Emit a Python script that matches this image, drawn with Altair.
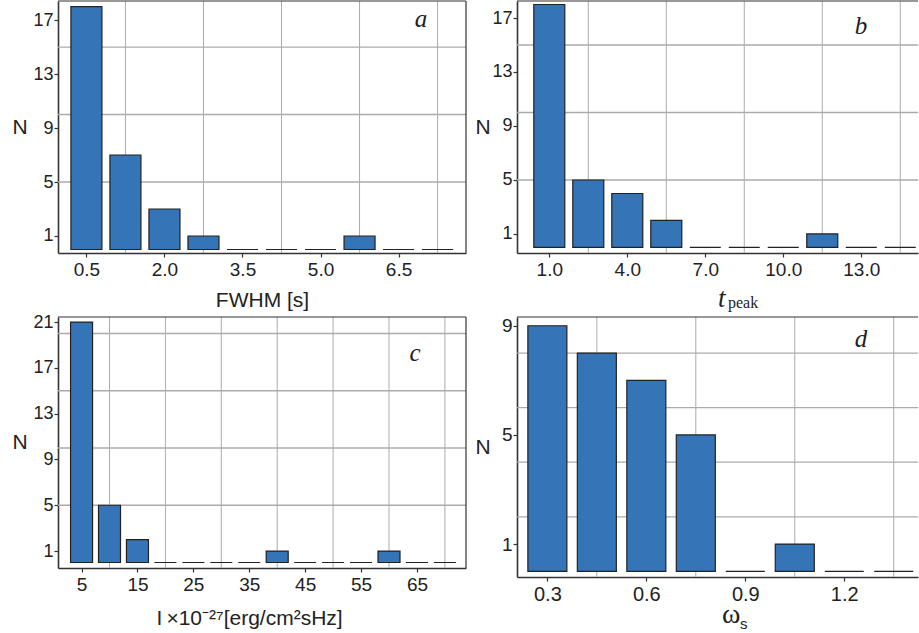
import altair as alt
import pandas as pd

# ---------------- data ----------------
a_bins = [0.5, 1.25, 2.0, 2.75, 3.5, 4.25, 5.0, 5.75, 6.5, 7.25]
a_counts = [18, 7, 3, 1, 0, 0, 0, 1, 0, 0]
a_xticks = [0.5, 2.0, 3.5, 5.0, 6.5]
a_yticks = [1, 5, 9, 13, 17]
a_xgrid = [1.25, 2.75, 4.25, 5.75, 7.25]
a_ygrid = [5, 10, 15]

b_bins = [1.0, 2.5, 4.0, 5.5, 7.0, 8.5, 10.0, 11.5, 13.0, 14.5]
b_counts = [18, 5, 4, 2, 0, 0, 0, 1, 0, 0]
b_xticks = [1.0, 4.0, 7.0, 10.0, 13.0]
b_yticks = [1, 5, 9, 13, 17]
b_xgrid = [2.5, 5.5, 8.5, 11.5, 14.5]
b_ygrid = [5, 10, 15]

c_bins = [5, 10, 15, 20, 25, 30, 35, 40, 45, 50, 55, 60, 65, 70]
c_counts = [21, 5, 2, 0, 0, 0, 0, 1, 0, 0, 0, 1, 0, 0]
c_xticks = [5, 15, 25, 35, 45, 55, 65]
c_yticks = [1, 5, 9, 13, 17, 21]
c_xgrid = [10, 20, 30, 40, 50, 60, 70]
c_ygrid = [5, 10, 15, 20]

d_bins = [0.3, 0.45, 0.6, 0.75, 0.9, 1.05, 1.2, 1.35]
d_counts = [9, 8, 7, 5, 0, 1, 0, 0]
d_xticks = [0.3, 0.6, 0.9, 1.2]
d_yticks = [1, 5, 9]
d_xgrid = [0.45, 0.75, 1.05, 1.35]
d_ygrid = [2, 4, 6, 8]

# ---------------- style ----------------
BAR = "#3574b6"
EDGE = "#222222"
GRID = "#ababab"
AXC = "#333333"
FONT = "Liberation Sans"
SERIF = "Liberation Serif"
one = pd.DataFrame({"k": [0]})


def text_layer(txt, x, y, font, size, style="normal", align="left", baseline="alphabetic"):
    return alt.Chart(one).mark_text(
        text=txt, font=font, fontSize=size, fontStyle=style, align=align,
        baseline=baseline, color="#222222"
    ).encode(x=alt.value(x), y=alt.value(y))


def panel(bins, counts, xticks, yticks, xgrid, ygrid, xdom, ydom, w, h,
          bar_size, xfmt, xlsize, ylsize, letter, lx, ly, xtitle, tx, ty,
          extras=(), right_frame=True, ntitle_x=-46):
    df = pd.DataFrame({"bin": bins, "count": counts})
    xs = alt.Scale(domain=xdom, nice=False, zero=False)
    ys = alt.Scale(domain=ydom, nice=False, zero=False)
    xaxis_kw = dict(values=xticks, format=xfmt, grid=False, labelFontSize=xlsize,
                    labelPadding=3, labelFlush=False)
    if xtitle:
        xaxis_kw.update(title=xtitle, titleX=tx, titleY=ty, titleAlign="center",
                        titleBaseline="alphabetic", titleFontSize=21)
    else:
        xaxis_kw.update(title=None)
    xaxis = alt.Axis(**xaxis_kw)
    yaxis = alt.Axis(
        values=yticks, format="d", grid=False, labelFontSize=ylsize,
        labelPadding=1, labelFlush=False, title="N", titleAngle=0,
        titleX=ntitle_x, titleY=h / 2, titleAlign="left",
        titleBaseline="middle", titleFontSize=21)

    gx = alt.Chart(pd.DataFrame({"bin": xgrid})).mark_rule(
        color=GRID, strokeWidth=1).encode(x=alt.X("bin:Q", scale=xs, axis=xaxis))
    gy = alt.Chart(pd.DataFrame({"count": ygrid})).mark_rule(
        color=GRID, strokeWidth=1.3).encode(y=alt.Y("count:Q", scale=ys, axis=yaxis))
    top = alt.Chart(one).mark_rule(color=AXC, strokeWidth=1.2).encode(
        x=alt.value(0), x2=alt.value(w), y=alt.value(0))
    layers = [gx, gy, top]
    if right_frame:
        layers.append(alt.Chart(one).mark_rule(color=AXC, strokeWidth=1.2).encode(
            x=alt.value(w), y=alt.value(0), y2=alt.value(h)))
    bars = alt.Chart(df).mark_bar(size=bar_size, color=BAR, stroke=EDGE,
                                  strokeWidth=1.2).encode(
        x=alt.X("bin:Q", scale=xs, axis=xaxis),
        y=alt.Y("count:Q", scale=ys, axis=yaxis),
        y2=alt.datum(0),
    )
    layers.append(bars)
    layers.append(text_layer(letter, lx, ly, SERIF, 25, style="italic",
                             align="center", baseline="middle"))
    layers.extend(extras)
    return alt.layer(*layers).properties(width=w, height=h)


pa = panel(a_bins, a_counts, a_xticks, a_yticks, a_xgrid, a_ygrid,
           [0.05, 7.70], [-0.26, 18.41], 408, 252, 31, ".1f", 19, 18,
           "a", 363, 18, "FWHM [s]", 204, 53)

pb = panel(b_bins, b_counts, b_xticks, b_yticks, b_xgrid, b_ygrid,
           [-0.05, 14.99], [-0.41, 18.26], 401, 252, 31, ".1f", 19, 18,
           "b", 344, 25, None, 0, 0,
           extras=[text_layer("t", 201, 306, SERIF, 27, style="italic"),
                   text_layer("peak", 211, 307, SERIF, 16)],
           right_frame=False, ntitle_x=-42)

pc = panel(c_bins, c_counts, c_xticks, c_yticks, c_xgrid, c_ygrid,
           [1.68, 72.88], [-0.48, 21.44], 408, 251, 22, "d", 19, 18,
           "c", 357, 36, "I\u2009\u00d710\u207b\u00b2\u2077[erg/cm\u00b2sHz]", 191, 56)

pd_ = panel(d_bins, d_counts, d_xticks, d_yticks, d_xgrid, d_ygrid,
            [0.2231, 1.4084], [-0.205, 9.32], 401, 260, 39, ".1f", 20, 19,
            "d", 344, 22, None, 0, 0,
            extras=[text_layer("\u03c9", 205, 306, SERIF, 28),
                    text_layer("s", 223, 312, FONT, 15)],
            right_frame=False, ntitle_x=-42)

chart = alt.concat(
    pa, pb, pc, pd_, columns=2,
    spacing={"row": 64, "column": 51}, bounds="flush", align="each",
).properties(
    padding={"left": 12, "top": 0, "right": 0, "bottom": 0},
    background="white",
).configure_view(stroke=None).configure_axis(
    labelFont=FONT, titleFont=FONT, labelColor="#222222", titleColor="#222222",
    domainColor=AXC, tickColor=AXC, tickSize=4, domainWidth=1.6, tickWidth=1.2,
    titleFontWeight="normal",
)

chart.save("out.html", embed_options={"renderer": "svg", "actions": False})
